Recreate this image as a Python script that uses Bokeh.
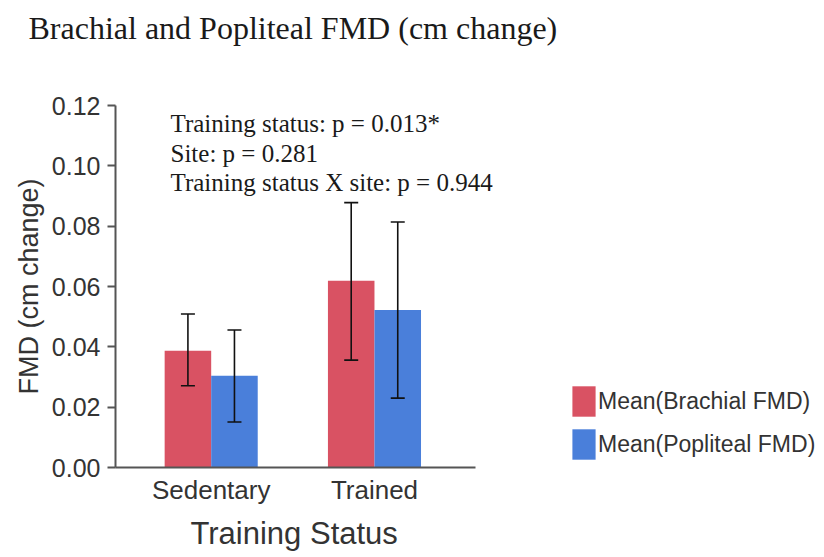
from bokeh.plotting import figure
from bokeh.models import (ColumnDataSource, Range1d, Whisker, TeeHead, Title,
                          Legend, LegendItem, Label, FixedTicker, NumeralTickFormatter)
from bokeh.transform import dodge
from bokeh.embed import file_html
from bokeh.resources import INLINE

# ---- data ----
categories = ["Sedentary", "Trained"]
brachial_mean = [0.0387, 0.0619]
brachial_lower = [0.0271, 0.0356]
brachial_upper = [0.0509, 0.0878]
popliteal_mean = [0.0304, 0.0522]
popliteal_lower = [0.0151, 0.0230]
popliteal_upper = [0.0456, 0.0814]
y_ticks = [0.0, 0.02, 0.04, 0.06, 0.08, 0.10, 0.12]
series_labels = ["Mean(Brachial FMD)", "Mean(Popliteal FMD)"]
title_text = "Brachial and Popliteal FMD (cm change)"
x_label = "Training Status"
y_label = "FMD (cm change)"
stats_lines = ["Training status: p = 0.013*",
               "Site: p = 0.281",
               "Training status X site: p = 0.944"]

RED = "#D95263"
BLUE = "#4A7FDA"
AXIS = "#555555"
SANS = "Liberation Sans"
SERIF = "Liberation Serif"

# category positions on a numeric axis (one unit per category)
centers = [i + 0.5 for i in range(len(categories))]

src_b = ColumnDataSource(dict(x=centers, val=brachial_mean,
                              lo=brachial_lower, hi=brachial_upper))
src_p = ColumnDataSource(dict(x=centers, val=popliteal_mean,
                              lo=popliteal_lower, hi=popliteal_upper))

p = figure(width=824, height=557,
           x_range=Range1d(-0.086, 4.256), y_range=Range1d(0, 0.12),
           output_backend="svg", toolbar_location=None,
           min_border_left=115, min_border_right=0,
           min_border_top=105, min_border_bottom=90)
p.outline_line_color = None
p.xgrid.visible = False
p.ygrid.visible = False
p.background_fill_color = "white"

off = 0.1425
bw = 0.285
r1 = p.vbar(x=dodge("x", -off), top="val", width=bw,
            source=src_b, fill_color=RED, line_color=None)
r2 = p.vbar(x=dodge("x", off), top="val", width=bw,
            source=src_p, fill_color=BLUE, line_color=None)

for src, o in ((src_b, -off), (src_p, off)):
    w = Whisker(source=src, base=dodge("x", o),
                upper="hi", lower="lo", line_color="#111111", line_width=1.6,
                upper_head=TeeHead(size=14, line_color="#111111", line_width=1.6),
                lower_head=TeeHead(size=14, line_color="#111111", line_width=1.6),
                level="overlay")
    p.add_layout(w)

# y axis
p.yaxis.ticker = FixedTicker(ticks=y_ticks)
p.yaxis.formatter = NumeralTickFormatter(format="0.00")
p.yaxis.minor_tick_line_color = None
p.yaxis.major_tick_out = 8
p.yaxis.major_tick_in = 0
p.yaxis.major_tick_line_color = AXIS
p.yaxis.major_tick_line_width = 2
p.yaxis.axis_line_color = AXIS
p.yaxis.axis_line_width = 2
p.yaxis.major_label_text_font = SANS
p.yaxis.major_label_text_font_size = "25px"
p.yaxis.major_label_text_color = "#333333"
p.yaxis.major_label_standoff = 7
p.yaxis.axis_label = y_label
p.yaxis.axis_label_text_font = SANS
p.yaxis.axis_label_text_font_style = "normal"
p.yaxis.axis_label_text_font_size = "27px"
p.yaxis.axis_label_text_color = "#333333"
p.yaxis.axis_label_standoff = 5

# x axis
p.xaxis.bounds = (-0.086, 2.118)
p.xaxis.ticker = FixedTicker(ticks=centers)
p.xaxis.major_label_overrides = {c: name for c, name in zip(centers, categories)}
p.xaxis.major_tick_line_color = None
p.xaxis.minor_tick_line_color = None
p.xaxis.major_tick_out = 0
p.xaxis.axis_line_color = AXIS
p.xaxis.axis_line_width = 2
p.xaxis.major_label_text_font = SANS
p.xaxis.major_label_text_font_size = "26px"
p.xaxis.major_label_text_color = "#333333"
p.xaxis.major_label_standoff = 7

p.add_layout(Title(text=x_label, text_font=SANS, text_font_size="31px",
                   text_font_style="normal", text_color="#333333",
                   align="left", offset=75, standoff=12), "below")

# title
p.title.text = title_text
p.title.text_font = SERIF
p.title.text_font_size = "32px"
p.title.text_font_style = "normal"
p.title.text_color = "#1a1a1a"
p.title.align = "left"
p.title.vertical_align = "top"
p.title.offset = -87
p.title.standoff = 0
p.title.padding = dict(top=0, right=0, bottom=58, left=0)

# statistics annotation (screen units relative to frame bottom-left)
for i, line in enumerate(stats_lines):
    p.add_layout(Label(x=55, y=344 - i * 29.5, x_units="screen", y_units="screen",
                       text=line, text_font=SERIF, text_font_size="25px",
                       text_color="#1a1a1a", text_baseline="alphabetic"))

legend = Legend(items=[LegendItem(label=series_labels[0], renderers=[r1]),
                       LegendItem(label=series_labels[1], renderers=[r2])],
                location=(454, 4), glyph_width=29, glyph_height=38,
                label_height=38, spacing=5, padding=0, margin=0,
                border_line_color=None, background_fill_alpha=0,
                label_text_font=SANS, label_text_font_size="23px",
                label_text_color="#333333", label_standoff=0)
p.add_layout(legend, "center")

open("out.html", "w").write(file_html(p, INLINE))
